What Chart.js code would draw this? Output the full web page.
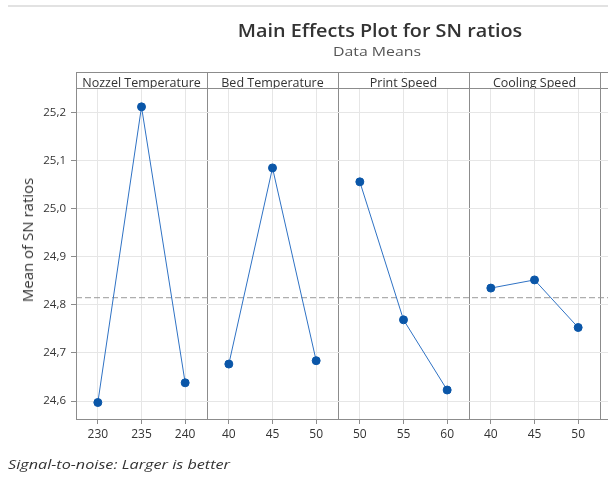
<!DOCTYPE html>
<html>
<head>
<meta charset="utf-8">
<script src="https://cdn.jsdelivr.net/npm/chart.js@4/dist/chart.umd.min.js"></script>
<style>
    body { margin: 0; background: #fff; font-family: "Open Sans", sans-serif; }
    #wrap { position: relative; width: 608px; height: 477px; overflow: hidden; }
    #chart { position: absolute; left: 0; top: 0; }
    .txt { position: absolute; color: #333; white-space: nowrap; }
    #topLine { position: absolute; left: 8px; top: 5px; width: 600px; height: 2px; background: #e2e2e2; }
    #title { left: 180px; width: 400px; top: 18px; text-align: center; font-size: 18px; font-weight: 600; transform: scaleX(1.1); }
    #subtitle { left: 177px; width: 400px; top: 42px; text-align: center; font-size: 13px; color: #555; transform: scaleX(1.22); }
    #yTitle { left: 27px; top: 240px; font-size: 15px; transform: translate(-50%, -50%) rotate(-90deg); }
    #note { left: 8px; top: 455px; font-size: 13.5px; font-style: italic; transform: scaleX(1.2); transform-origin: left center; }
</style>
</head>
<body>
<div id="wrap">
    <div id="topLine"></div>
    <canvas id="chart" width="740" height="477"></canvas>
    <div class="txt" id="title">Main Effects Plot for SN ratios</div>
    <div class="txt" id="subtitle">Data Means</div>
    <div class="txt" id="yTitle">Mean of SN ratios</div>
    <div class="txt" id="note">Signal-to-noise: Larger is better</div>
</div>

<script>
// Factors (panels) and their levels
const factors = ["Nozzel Temperature", "Bed Temperature", "Print Speed", "Cooling Speed", ""];
const nozzleLevels = ["230", "235", "240"];
const bedLevels = ["40", "45", "50"];
const speedLevels = ["50", "55", "60"];
const coolLevels = ["40", "45", "50"];
const extraLevels = ["", "", ""]; // next panel, cut off at the right edge

// Mean of SN ratios per level
const nozzleSN = [24.597, 25.212, 24.638];
const bedSN = [24.677, 25.085, 24.684];
const speedSN = [25.056, 24.769, 24.623];
const coolSN = [24.835, 24.852, 24.753];

const grandMean = 24.815;
const yTicks = [24.6, 24.7, 24.8, 24.9, 25.0, 25.1, 25.2];

const levels = [nozzleLevels, bedLevels, speedLevels, coolLevels, extraLevels];
const series = [nozzleSN, bedSN, speedSN, coolSN];
const allLabels = levels.flat();

const frameColor = "#8c8c8c";
const gridColor = "#e6e6e6";

// one dataset per panel so lines don't join across panels
function panelData(k) {
    let d = new Array(allLabels.length).fill(null);
    series[k].forEach((v, i) => { d[k * 3 + i] = v; });
    return d;
}

let datasets = series.map((s, k) => ({
    data: panelData(k),
    borderColor: "#2f72c4",
    borderWidth: 1,
    pointRadius: 4,
    pointHoverRadius: 4,
    pointBackgroundColor: "#0a56a8",
    pointBorderColor: "#0a56a8",
    spanGaps: false,
    tension: 0
}));

datasets.push({
    xAxisID: "xm",
    data: [{x: 0, y: grandMean}, {x: 1, y: grandMean}],
    borderColor: "#9a9a9a",
    borderWidth: 1,
    borderDash: [6, 3],
    pointRadius: 0
});

// top line of the header strip
const headerStrip = {
    id: "headerStrip",
    afterDraw(chart) {
        const ctx = chart.ctx;
        const a = chart.chartArea;
        ctx.save();
        ctx.strokeStyle = frameColor;
        ctx.lineWidth = 1;
        ctx.beginPath();
        ctx.moveTo(a.left, 72.5);
        ctx.lineTo(a.right, 72.5);
        ctx.stroke();
        ctx.restore();
    }
};

new Chart(document.getElementById("chart"), {
    type: "line",
    data: { labels: allLabels, datasets: datasets },
    plugins: [headerStrip],
    options: {
        responsive: false,
        animation: false,
        layout: { padding: { left: 0, right: 9, top: 0, bottom: 0 } },
        plugins: { legend: { display: false }, tooltip: { enabled: false } },
        scales: {
            x: {
                type: "category",
                offset: true,
                grid: { offset: false, color: gridColor, tickColor: frameColor, tickLength: 5 },
                border: { color: frameColor },
                ticks: { font: { family: "Open Sans", size: 12 }, color: "#333", padding: 3, maxRotation: 0, autoSkip: false },
                afterFit: s => { s.height = 58; }
            },
            xTop: {
                type: "category",
                position: "top",
                labels: factors,
                offset: true,
                grid: { offset: true, color: frameColor, tickLength: 16 },
                border: { color: frameColor },
                ticks: { font: { family: "Open Sans", size: 12.5 }, color: "#333", padding: -19, maxRotation: 0, autoSkip: false },
                afterFit: s => { s.height = 88; }
            },
            xm: { type: "linear", display: false, min: 0, max: 1 },
            y: {
                min: 24.5627,
                max: 25.2512,
                afterBuildTicks: s => { s.ticks = yTicks.map(v => ({value: v})); },
                grid: { color: gridColor, tickColor: frameColor, tickLength: 5 },
                border: { color: frameColor },
                ticks: {
                    font: { family: "Open Sans", size: 11.5 },
                    color: "#333",
                    padding: 5,
                    callback: v => v.toFixed(1).replace(".", ",")
                },
                afterFit: s => { s.width = 76; }
            }
        }
    }
});
</script>
</body>
</html>
